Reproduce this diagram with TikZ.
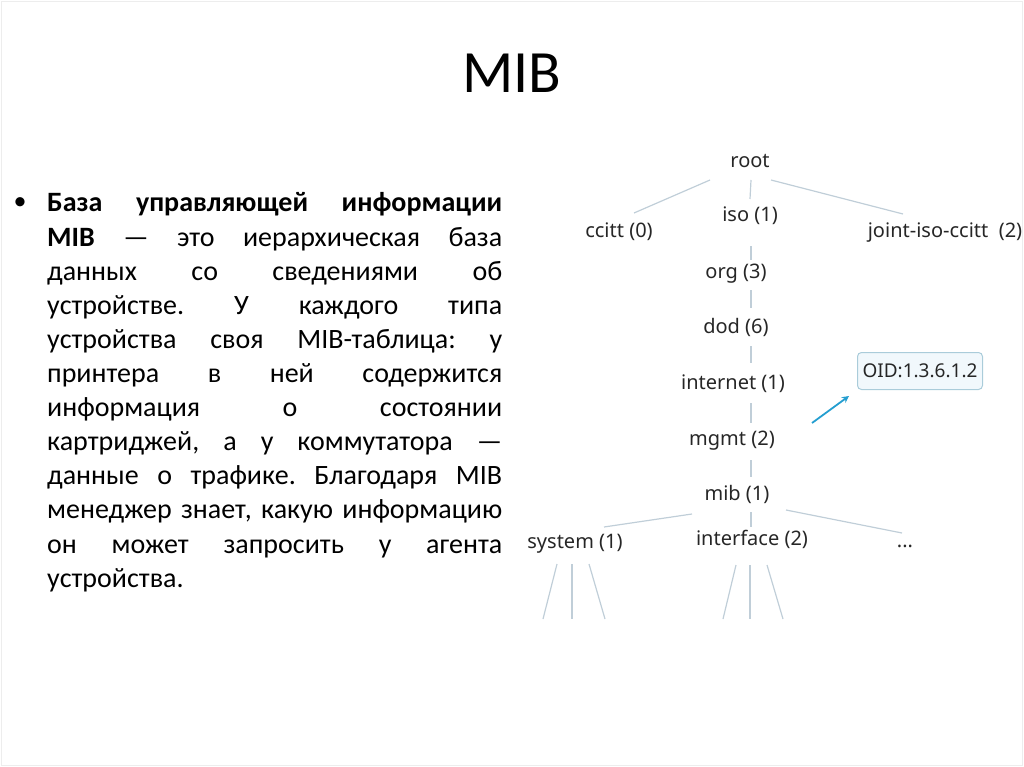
\documentclass[tikz,border=0pt]{standalone}
\usepackage{fontspec}
\setmainfont{Carlito}
\newfontfamily\treefont{Noto Sans}
\usepackage{xcolor}
\usepackage{tikz}
\usetikzlibrary{calc, arrows.meta}
\definecolor{lignearbre}{RGB}{192, 206, 216}
\definecolor{textearbre}{RGB}{38, 38, 38}
\definecolor{bleufleche}{RGB}{36, 158, 208}
\definecolor{bordoid}{RGB}{170, 204, 218}
\definecolor{fondoid}{RGB}{241, 248, 252}

\begin{document}
\begin{tikzpicture}[x=1pt, y=-1pt,
    arbre/.style={font=\treefont\fontsize{20}{23}\selectfont, text=textearbre, inner sep=0pt, anchor=base},
    lien/.style={draw=lignearbre, line width=1.2pt}]
    \useasboundingbox (0,0) rectangle (1024,767);
    \draw[black!7] (1.5,1.5) rectangle (1022.5,765.5);
    % titre
    \node[anchor=base, font=\fontsize{60}{72}\selectfont] (titre) at (512,93) {MIB};
    % texte a gauche
    \node[anchor=base, font=\fontsize{26}{34}\selectfont] (puce) at (20,210) {•};
    \node[anchor=base west, inner sep=0pt, text width=455pt, align=justify,
        font=\fontsize{28}{34.1}\selectfont] (texte) at (47,212)
        {\frenchspacing\hyphenpenalty=10000\exhyphenpenalty=10000\tolerance=10000
        \textbf{База управляющей информации}\linebreak
        \textbf{MIB} — это иерархическая база\linebreak
        данных со сведениями об\linebreak
        устройстве. У каждого типа\linebreak
        устройства своя MIB-таблица: у\linebreak
        принтера в ней содержится\linebreak
        информация о состоянии\linebreak
        картриджей, а у коммутатора —\linebreak
        данные о трафике. Благодаря MIB\linebreak
        менеджер знает, какую информацию\linebreak
        он может запросить у агента\linebreak
        устройства.};
    % arbre
    \node[arbre] (root) at (750,168) {root};
    \node[arbre] (ccitt) at (619,237) {ccitt (0)};
    \node[arbre] (iso) at (750,222) {iso (1)};
    \node[arbre] (joint) at (945,237) {joint-iso-ccitt\ \ (2)};
    \node[arbre] (org) at (736,278) {org (3)};
    \node[arbre] (dod) at (736,333) {dod (6)};
    \node[arbre] (internet) at (733,389) {internet (1)};
    \node[arbre] (mgmt) at (732,445) {mgmt (2)};
    \node[arbre] (mib) at (737,500) {mib (1)};
    \node[arbre] (system) at (575,548) {system (1)};
    \node[arbre] (interface) at (752,545) {interface (2)};
    \node[arbre] (suite) at (905,547) {...};
    % liens
    \draw[lien] ($(root.base)+(-40,12)$) -- ($(ccitt.base)+(15,-24)$);
    \draw[lien] ($(root.base)+(1,12)$) -- ($(iso.base)+(0,-23)$);
    \draw[lien] ($(root.base)+(21,12)$) -- ($(joint.base)+(-42,-23)$);
    \draw[lien] ($(iso.base)+(1,24)$) -- ($(org.base)+(15,-18)$);
    \draw[lien] ($(org.base)+(15,12)$) -- ($(dod.base)+(15,-25)$);
    \draw[lien] ($(dod.base)+(15,13)$) -- ($(internet.base)+(18,-26)$);
    \draw[lien] ($(internet.base)+(18,14)$) -- ($(mgmt.base)+(19,-22)$);
    \draw[lien] ($(mgmt.base)+(19,15)$) -- ($(mib.base)+(14,-23)$);
    \draw[lien] ($(mib.base)+(-45,14)$) -- ($(system.base)+(29,-21)$);
    \draw[lien] ($(mib.base)+(14,12)$) -- ($(interface.base)+(-1,-18)$);
    \draw[lien] ($(mib.base)+(49,10)$) -- ($(suite.base)+(-3,-14)$);
    % feuilles
    \foreach \dx/\fx [count=\i] in {-18/543, -3/572, 14/605} {
        \coordinate (sys\i) at (\fx,619);
        \draw[lien] ($(system.base)+(\dx,16)$) -- (sys\i);
    }
    \foreach \dx/\fx [count=\i] in {-16/723, -2/750, 15/783} {
        \coordinate (int\i) at (\fx,619);
        \draw[lien] ($(interface.base)+(\dx,20)$) -- (int\i);
    }
    % OID
    \node[draw=bordoid, fill=fondoid, line width=1pt, rounded corners=4pt,
        minimum width=125pt, minimum height=37pt, inner sep=0pt,
        font=\treefont\fontsize{19}{22}\selectfont, text=textearbre] (oid) at (920,371) {OID:1.3.6.1.2};
    \coordinate (depart) at (812,423);
    \draw[bleufleche, line width=1.8pt, -{Stealth[length=7pt, width=7pt]}]
        (depart) -- ($(oid.south west)+(-8,6)$);
\end{tikzpicture}
\end{document}
